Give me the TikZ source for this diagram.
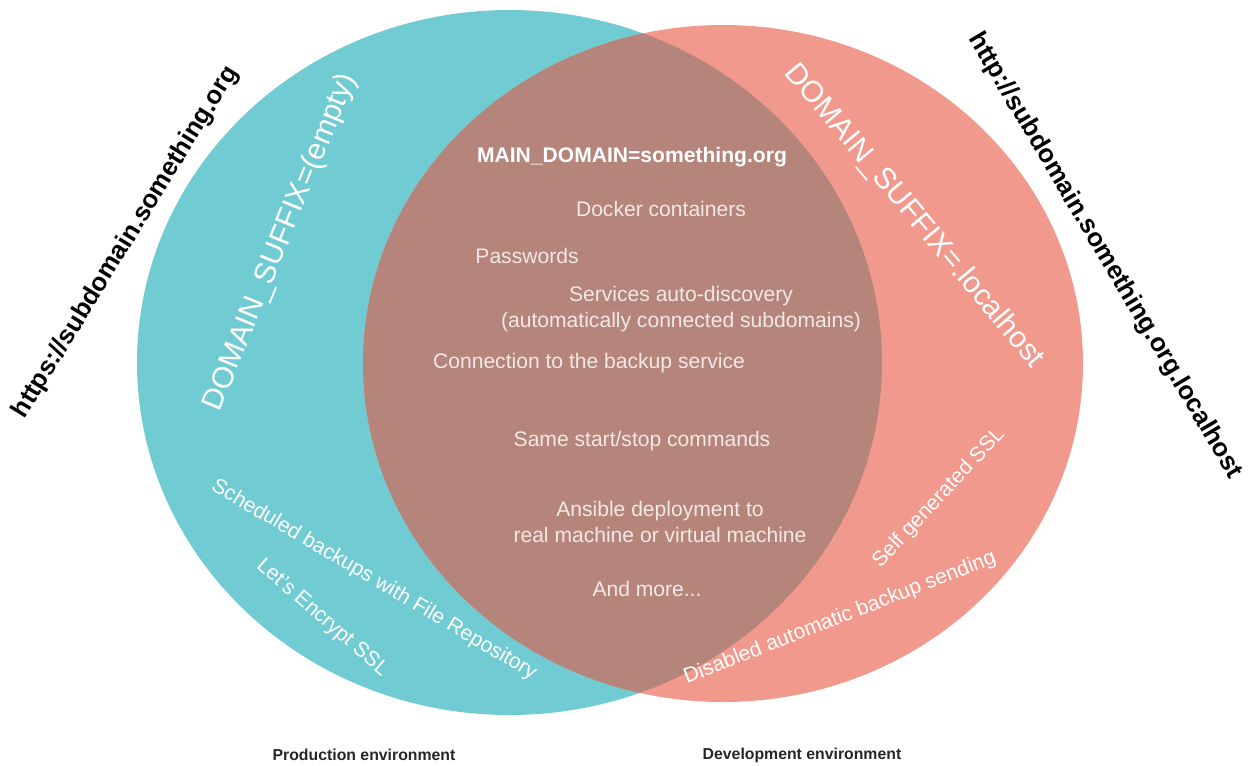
\documentclass[tikz,border=0pt]{standalone}
\usepackage{fontspec}
\setmainfont{Liberation Sans}
\definecolor{prodfill}{RGB}{113,203,210}
\definecolor{devfill}{RGB}{241,153,140}
\definecolor{bothfill}{RGB}{181,132,122}
\definecolor{bothtext}{RGB}{243,232,229}

\begin{document}
\begin{tikzpicture}[
  x=0.02cm, y=-0.02cm,
  inner sep=0pt,
  both/.style={text=bothtext,font=\fontsize{12}{14.7}\selectfont,align=center},
  side/.style={text=white,font=\fontsize{12}{14}\selectfont},
  suffix/.style={text=white,font=\fontsize{17}{20}\selectfont},
  url/.style={text=black,font=\fontsize{14.6}{17}\selectfont\bfseries},
  env/.style={text=black!85,font=\fontsize{9}{11}\selectfont\bfseries}
]
  \useasboundingbox (0,0) rectangle (1249,765);
  % the two environments and their common part
  \fill[prodfill] (509.5,362.5) ellipse [x radius=372.5, y radius=352.5];
  \fill[devfill] (723,363.5) ellipse [x radius=360, y radius=338.5];
  \begin{scope}
    \clip (509.5,362.5) ellipse [x radius=372.5, y radius=352.5];
    \fill[bothfill] (723,363.5) ellipse [x radius=360, y radius=338.5];
  \end{scope}

  \node[url,rotate=58.4](produrl) at (126,242){https://subdomain.something.org};
  \node[url,rotate=-59.3](devurl) at (1105,256){http://subdomain.something.org.localhost};
  \node[suffix,rotate=67.8](prodsuffix) at (281,242){DOMAIN\_SUFFIX=(empty)};
  \node[suffix,rotate=-50](devsuffix) at (914,216){DOMAIN\_SUFFIX=.localhost};

  \node[both,text=white,font=\fontsize{12}{14}\selectfont\bfseries](maindomain) at (632,157){MAIN\_DOMAIN=something.org};
  \node[both](docker) at (661,209){Docker containers};
  \node[both](passwords) at (527,256){Passwords};
  \node[both](discovery) at (681,309){Services auto-discovery\\(automatically connected subdomains)};
  \node[both](backup) at (589,363){Connection to the backup service};
  \node[both](commands) at (642,441){Same start/stop commands};
  \node[both](ansible) at (660,522){Ansible deployment to\\real machine or virtual machine};
  \node[both](more) at (647,589){And more...};

  \node[side,rotate=-30.6](scheduled) at (374,580){Scheduled backups with File Repository};
  \node[side,rotate=-41](letsencrypt) at (322,618){Let's Encrypt SSL};
  \node[side,rotate=47](selfssl) at (939,498){Self generated SSL};
  \node[side,rotate=21.3](disabled) at (840,618){Disabled automatic backup sending};

  \node[env](prodenv) at (364,755){Production environment};
  \node[env](devenv) at (802,755){Development environment};
\end{tikzpicture}
\end{document}
